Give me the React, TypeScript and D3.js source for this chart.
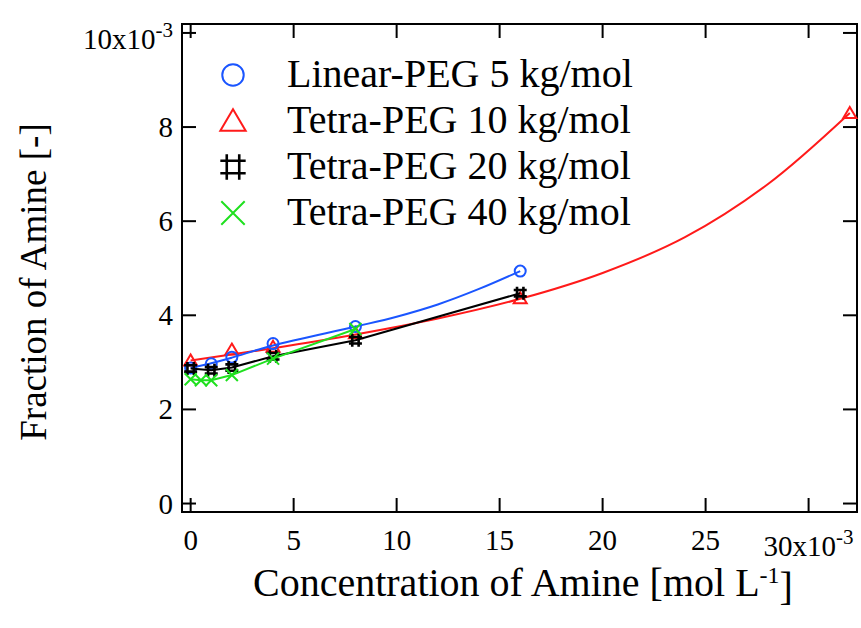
import React from "react";
import * as d3 from "d3";

// Concentration of amine (x 10^-3 mol/L) and amine fraction (x 10^-3)
const linearX = [0, 1, 2, 4, 8, 16];
const linearY = [2.88, 2.97, 3.11, 3.4, 3.76, 4.94];
const tetra10X = [0, 2, 4, 8, 16, 32];
const tetra10Y = [3.04, 3.27, 3.33, 3.62, 4.36, 8.3];
const tetra20X = [0, 1, 2, 4, 8, 16];
const tetra20Y = [2.87, 2.83, 2.89, 3.13, 3.47, 4.47];
const tetra40X = [0, 0.5, 1, 2, 4, 8];
const tetra40Y = [2.64, 2.62, 2.62, 2.73, 3.08, 3.71];

// Smooth fitted curves
const linearFitX = [0, 1, 2, 4, 8, 10, 12, 14, 16];
const linearFitY = [2.88, 2.98, 3.1, 3.36, 3.76, 3.97, 4.23, 4.56, 4.94];
const tetra10FitX = [0, 4, 8, 12, 16, 20, 24, 28, 32];
const tetra10FitY = [3.04, 3.3, 3.59, 3.93, 4.35, 4.9, 5.66, 6.78, 8.3];

const xTicks = [0, 5, 10, 15, 20, 25, 30];
const yTicks = [0, 2, 4, 6, 8, 10];
const legendLabels = [
  "Linear-PEG 5 kg/mol",
  "Tetra-PEG 10 kg/mol",
  "Tetra-PEG 20 kg/mol",
  "Tetra-PEG 40 kg/mol",
];

const BLUE = "#1a55ff";
const RED = "#ff1a1a";
const BLACK = "#000000";
const GREEN = "#1fe01f";
const FONT = "'Liberation Serif', 'Times New Roman', serif";

const L = 182, R = 857, T = 24, B = 512;
const x = d3.scaleLinear().domain([-0.42, 32.35]).range([L, R]);
const y = d3.scaleLinear().domain([-0.18, 10.19]).range([B, T]);

type Kind = "circle" | "triangle" | "hash" | "cross";

function Marker({ kind, cx, cy, s, color }: { kind: Kind; cx: number; cy: number; s: number; color: string }) {
  const common = { fill: "none", stroke: color, strokeWidth: 2 };
  if (kind === "circle") return <circle cx={cx} cy={cy} r={5.5 * s} {...common} />;
  if (kind === "triangle") {
    const w = 6.5 * s, h = 5.5 * s;
    return <path d={`M${cx},${cy - h * 1.1} L${cx + w},${cy + h * 0.9} L${cx - w},${cy + h * 0.9} Z`} {...common} strokeLinejoin="miter" />;
  }
  if (kind === "hash") {
    const a = 3.2 * s, e = 6.5 * s;
    return (
      <path
        d={`M${cx - a},${cy - e} V${cy + e} M${cx + a},${cy - e} V${cy + e} M${cx - e},${cy - a} H${cx + e} M${cx - e},${cy + a} H${cx + e}`}
        fill="none" stroke={color} strokeWidth={2.6}
      />
    );
  }
  const e = 6 * s;
  return <path d={`M${cx - e},${cy - e} L${cx + e},${cy + e} M${cx + e},${cy - e} L${cx - e},${cy + e}`} {...common} />;
}

type Series = {
  xs: number[]; ys: number[]; fx: number[]; fy: number[];
  color: string; kind: Kind; curve: d3.CurveFactory;
};

const series: Series[] = [
  { xs: tetra10X, ys: tetra10Y, fx: tetra10FitX, fy: tetra10FitY, color: RED, kind: "triangle", curve: d3.curveCatmullRom },
  { xs: linearX, ys: linearY, fx: linearFitX, fy: linearFitY, color: BLUE, kind: "circle", curve: d3.curveCatmullRom },
  { xs: tetra20X, ys: tetra20Y, fx: tetra20X, fy: tetra20Y, color: BLACK, kind: "hash", curve: d3.curveLinear },
  { xs: tetra40X, ys: tetra40Y, fx: tetra40X, fy: tetra40Y, color: GREEN, kind: "cross", curve: d3.curveLinear },
];
const legendOrder: { kind: Kind; color: string }[] = [
  { kind: "circle", color: BLUE },
  { kind: "triangle", color: RED },
  { kind: "hash", color: BLACK },
  { kind: "cross", color: GREEN },
];

export default function App() {
  const tick = 14;
  return (
    <svg width={861} height={628} style={{ position: "absolute", left: 0, top: 0, background: "#fff" }}>
      <rect x={0} y={0} width={861} height={628} fill="#fff" />

      {/* frame */}
      <rect x={L} y={T} width={R - L} height={B - T} fill="none" stroke="#000" strokeWidth={2} />

      {/* x ticks */}
      {xTicks.map((t) => (
        <g key={`xt${t}`} stroke="#000" strokeWidth={2}>
          <line x1={x(t)} x2={x(t)} y1={B} y2={B - tick} />
          <line x1={x(t)} x2={x(t)} y1={T} y2={T + tick} />
        </g>
      ))}
      {/* y ticks */}
      {yTicks.map((t) => (
        <g key={`yt${t}`} stroke="#000" strokeWidth={2}>
          <line x1={L} x2={L + tick} y1={y(t)} y2={y(t)} />
          <line x1={R} x2={R - tick} y1={y(t)} y2={y(t)} />
        </g>
      ))}

      {/* x tick labels */}
      {xTicks.map((t) =>
        t === 30 ? (
          <text key={`xl${t}`} x={x(t)} y={556} fontSize={29} fontFamily={FONT} textAnchor="middle">
            30x10<tspan fontSize={21} dy={-12}>-3</tspan>
          </text>
        ) : (
          <text key={`xl${t}`} x={x(t)} y={550} fontSize={29} fontFamily={FONT} textAnchor="middle">{t}</text>
        )
      )}
      {/* y tick labels */}
      {yTicks.map((t) =>
        t === 10 ? (
          <text key={`yl${t}`} x={173} y={49} fontSize={29} fontFamily={FONT} textAnchor="end">
            10x10<tspan fontSize={21} dy={-12}>-3</tspan>
          </text>
        ) : (
          <text key={`yl${t}`} x={173} y={y(t) + 10} fontSize={29} fontFamily={FONT} textAnchor="end">{t}</text>
        )
      )}

      {/* axis titles */}
      <text x={253} y={596} fontSize={40} fontFamily={FONT}>
        Concentration of Amine [mol L<tspan fontSize={24} dy={-13}>-1</tspan><tspan dy={17}>]</tspan>
      </text>
      <text transform={`translate(46,${282}) rotate(-90)`} fontSize={37} fontFamily={FONT} textAnchor="middle">
        Fraction of Amine [-]
      </text>

      {/* data */}
      {series.map((s, i) => {
        const line = d3.line<number>().x((_, k) => x(s.fx[k])).y((_, k) => y(s.fy[k])).curve(s.curve);
        return (
          <g key={`s${i}`}>
            <path d={line(s.fx) || ""} fill="none" stroke={s.color} strokeWidth={2} />
            {s.xs.map((v, k) => (
              <Marker key={k} kind={s.kind} cx={x(v)} cy={y(s.ys[k])} s={1} color={s.color} />
            ))}
          </g>
        );
      })}

      {/* legend */}
      {legendLabels.map((lab, i) => {
        const cy = 75 + i * 46;
        return (
          <g key={`lg${i}`}>
            <Marker kind={legendOrder[i].kind} cx={233} cy={cy} s={1.95} color={legendOrder[i].color} />
            <text x={287} y={cy + 12} fontSize={40} fontFamily={FONT}>{lab}</text>
          </g>
        );
      })}
    </svg>
  );
}
